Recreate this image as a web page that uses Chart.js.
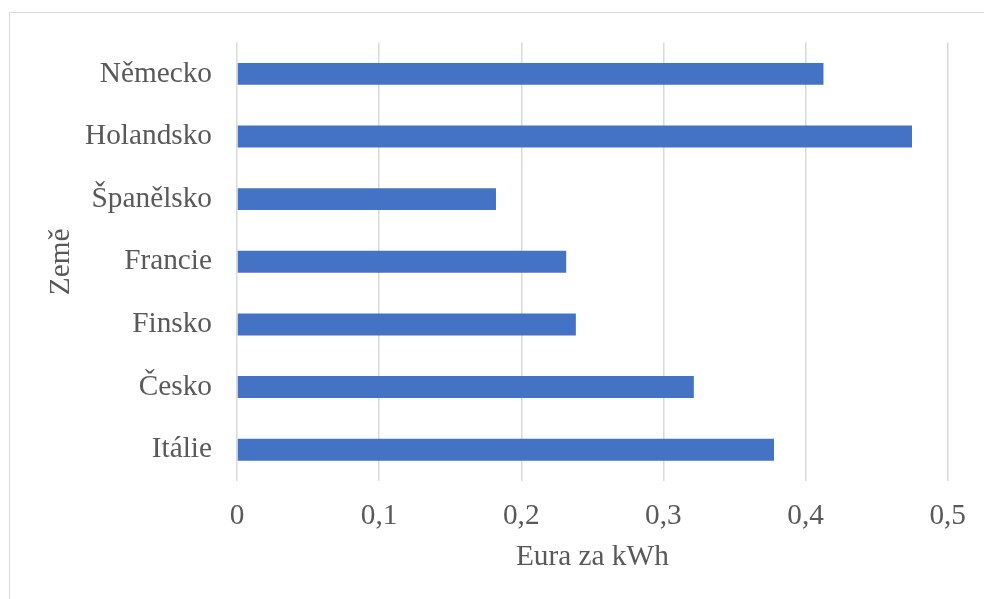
<!DOCTYPE html>
<html>
<head>
<meta charset="utf-8">
<script src="https://cdn.jsdelivr.net/npm/chart.js@4"></script>
<style>
  html, body { margin: 0; padding: 0; background: #fff; overflow: hidden; }
  #wrap { position: relative; width: 984px; height: 599px; }
  #frame { position: absolute; left: 9px; top: 12px; width: 1000px; height: 620px;
           border: 1.5px solid #d9d9d9; box-sizing: border-box; }
  canvas { position: absolute; left: 0; top: 0; }
</style>
</head>
<body>
<div id="wrap">
  <div id="frame"></div>
  <canvas id="ceny" width="984" height="599"></canvas>
</div>
<script>
const countries = ["Německo", "Holandsko", "Španělsko", "Francie", "Finsko", "Česko", "Itálie"];
const prices = [0.4126, 0.4749, 0.1822, 0.2316, 0.2384, 0.3214, 0.3778];
const xTitle = "Eura za kWh";
const yTitle = "Země";

const textColor = "#595959";
const font = { family: "'Liberation Serif', 'Times New Roman', serif", size: 29.3 };

new Chart(document.getElementById("ceny"), {
  type: "bar",
  data: {
    labels: countries,
    datasets: [
      {
        data: prices,
        backgroundColor: "#4472c4",
        categoryPercentage: 1,
        barPercentage: 0.35,
      },
    ],
  },
  options: {
    indexAxis: "y",
    responsive: false,
    animation: false,
    layout: { padding: { left: 0, top: 42, right: 36, bottom: 0 } },
    plugins: {
      legend: { display: false },
      tooltip: { enabled: false },
    },
    scales: {
      x: {
        min: 0,
        max: 0.5,
        ticks: {
          stepSize: 0.1,
          color: textColor,
          font: font,
          padding: 18,
          callback: (v) => String(Math.round(v * 10) / 10).replace(".", ","),
        },
        grid: { color: "#d9d9d9", lineWidth: 1.5, drawTicks: false },
        border: { display: false },
        title: {
          display: true,
          text: xTitle,
          color: textColor,
          font: font,
          padding: { top: 4, bottom: 24 },
        },
        afterFit: (scale) => { scale.height = 118; },
      },
      y: {
        ticks: { color: textColor, font: font, padding: 25 },
        grid: { display: false, drawTicks: false },
        border: { display: false },
        title: {
          display: true,
          text: yTitle,
          color: textColor,
          font: font,
          padding: { top: 44, bottom: 0 },
        },
        afterFit: (scale) => { scale.width = 237; },
      },
    },
  },
});
</script>
</body>
</html>
